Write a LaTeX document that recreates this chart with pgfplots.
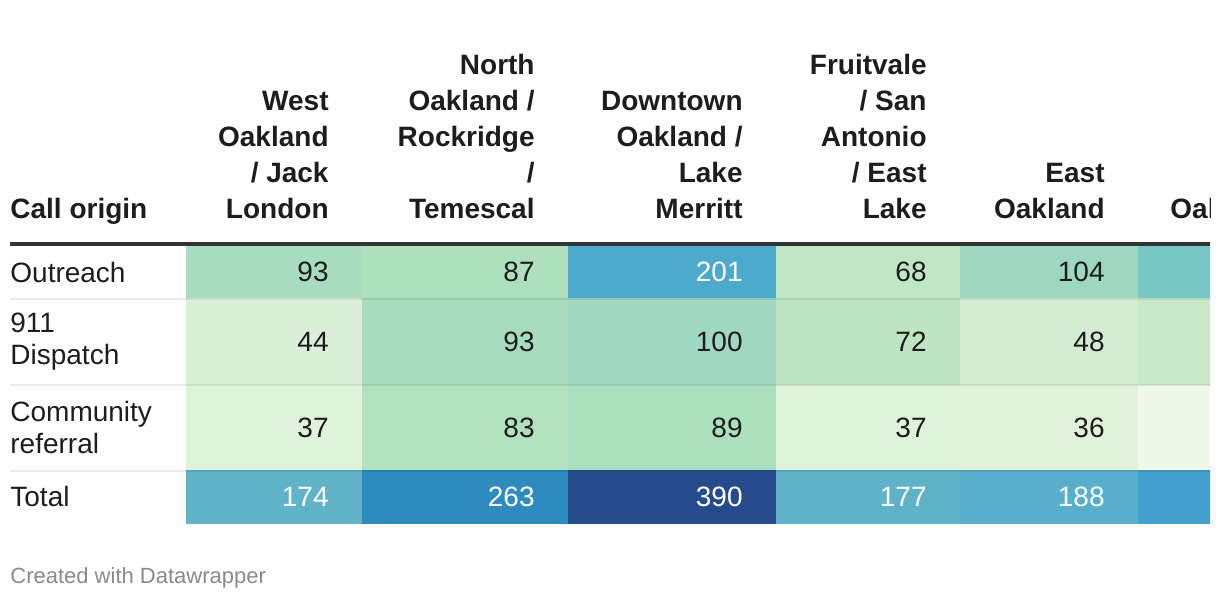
\documentclass[border=0pt]{standalone}
\usepackage{pgfplots}
\pgfplotsset{compat=1.18}
\usepgfplotslibrary{patchplots}
\usepackage{fontspec}
\setmainfont{Liberation Sans}
\definecolor{txt}{RGB}{29,29,29}
\definecolor{rulecol}{RGB}{51,51,51}
\definecolor{foot}{RGB}{138,138,138}
\newcommand{\hdrfont}{\fontsize{14}{18}\selectfont\bfseries\color{txt}}
\newcommand{\cellfont}{\fontsize{14}{16}\selectfont\color{txt}}
\newcommand{\whitefont}{\fontsize{14}{16}\selectfont\color{white}}
\begin{document}
\begin{tikzpicture}
\path[use as bounding box] (0,0) rectangle (610pt,300pt);
\clip (0,0) rectangle (605pt,300pt);
\begin{axis}[
  at={(0,0)}, anchor=south west,
  scale only axis, width=610pt, height=300pt,
  xmin=0, xmax=1220, ymin=0, ymax=600, y dir=reverse,
  hide axis, clip=false,
  point meta min=20, point meta max=390,
  colormap={dw}{
    rgb255(20pt)=(239,248,233)
    rgb255(36pt)=(224,242,219)
    rgb255(44pt)=(218,239,216)
    rgb255(48pt)=(212,237,210)
    rgb255(60pt)=(200,233,200)
    rgb255(68pt)=(193,230,196)
    rgb255(72pt)=(189,229,194)
    rgb255(83pt)=(178,225,190)
    rgb255(87pt)=(175,224,190)
    rgb255(89pt)=(172,223,189)
    rgb255(93pt)=(168,220,191)
    rgb255(100pt)=(161,216,195)
    rgb255(104pt)=(157,215,194)
    rgb255(140pt)=(117,198,197)
    rgb255(174pt)=(97,180,200)
    rgb255(188pt)=(87,175,203)
    rgb255(201pt)=(78,170,205)
    rgb255(220pt)=(68,159,204)
    rgb255(263pt)=(45,139,191)
    rgb255(390pt)=(38,75,141)
  },
]
\addplot[patch, patch type=rectangle, shader=faceted, faceted color=mapped color, line width=0.2pt]
  table[x=x, y=y, point meta=\thisrow{v}] {
x y v
186 246 93
362 246 93
362 298 93
186 298 93
186 298 44
362 298 44
362 385 44
186 385 44
186 385 37
362 385 37
362 470 37
186 470 37
186 470 174
362 470 174
362 523 174
186 523 174
362 246 87
568 246 87
568 298 87
362 298 87
362 298 93
568 298 93
568 385 93
362 385 93
362 385 83
568 385 83
568 470 83
362 470 83
362 470 263
568 470 263
568 523 263
362 523 263
568 246 201
776 246 201
776 298 201
568 298 201
568 298 100
776 298 100
776 385 100
568 385 100
568 385 89
776 385 89
776 470 89
568 470 89
568 470 390
776 470 390
776 523 390
568 523 390
776 246 68
960 246 68
960 298 68
776 298 68
776 298 72
960 298 72
960 385 72
776 385 72
776 385 37
960 385 37
960 470 37
776 470 37
776 470 177
960 470 177
960 523 177
776 523 177
960 246 104
1138 246 104
1138 298 104
960 298 104
960 298 48
1138 298 48
1138 385 48
960 385 48
960 385 36
1138 385 36
1138 470 36
960 470 36
960 470 188
1138 470 188
1138 523 188
960 523 188
1138 246 140
1320 246 140
1320 298 140
1138 298 140
1138 298 60
1320 298 60
1320 385 60
1138 385 60
1138 385 20
1320 385 20
1320 470 20
1138 470 20
1138 470 220
1320 470 220
1320 523 220
1138 523 220
};
\addplot[only marks, mark size=0pt, nodes near coords, point meta=explicit symbolic,
  every node near coord/.append style={anchor=east, inner sep=0pt, font=\cellfont}]
  table[x=x, y=y, meta=v] {
x y v
329 272 93
535 272 87
927 272 68
1105 272 104
329 341.5 44
535 341.5 93
743 341.5 100
927 341.5 72
1105 341.5 48
329 427.5 37
535 427.5 83
743 427.5 89
927 427.5 37
1105 427.5 36
};
\addplot[only marks, mark size=0pt, nodes near coords, point meta=explicit symbolic,
  every node near coord/.append style={anchor=east, inner sep=0pt, font=\whitefont}]
  table[x=x, y=y, meta=v] {
x y v
743 272 201
329 496.5 174
535 496.5 263
743 496.5 390
927 496.5 177
1105 496.5 188
};
\draw[line width=2pt, rulecol] (axis cs:10,244) -- (axis cs:1220,244);
\draw[line width=1pt, black, opacity=0.08] (axis cs:10,299) -- (axis cs:1220,299);
\draw[line width=1pt, black, opacity=0.08] (axis cs:10,385) -- (axis cs:1220,385);
\draw[line width=1pt, black, opacity=0.08] (axis cs:10,470.5) -- (axis cs:1220,470.5);
\node[anchor=base west, inner sep=0pt, font=\hdrfont] at (axis cs:10,218) {Call origin};
\node[anchor=base east, inner sep=0pt, font=\hdrfont] at (axis cs:329,218)
  {\begin{tabular}[b]{@{}r@{}}West\\Oakland\\/ Jack\\London\end{tabular}};
\node[anchor=base east, inner sep=0pt, font=\hdrfont] at (axis cs:535,218)
  {\begin{tabular}[b]{@{}r@{}}North\\Oakland /\\Rockridge\\/\\Temescal\end{tabular}};
\node[anchor=base east, inner sep=0pt, font=\hdrfont] at (axis cs:743,218)
  {\begin{tabular}[b]{@{}r@{}}Downtown\\Oakland /\\Lake\\Merritt\end{tabular}};
\node[anchor=base east, inner sep=0pt, font=\hdrfont] at (axis cs:927,218)
  {\begin{tabular}[b]{@{}r@{}}Fruitvale\\/ San\\Antonio\\/ East\\Lake\end{tabular}};
\node[anchor=base east, inner sep=0pt, font=\hdrfont] at (axis cs:1105,218)
  {\begin{tabular}[b]{@{}r@{}}East\\Oakland\end{tabular}};
\node[anchor=base west, inner sep=0pt, font=\hdrfont] at (axis cs:1170,218) {Oakland};
\node[anchor=west, inner sep=0pt, align=left, font=\cellfont] at (axis cs:10,272) {Outreach};
\node[anchor=west, inner sep=0pt, align=left, font=\cellfont] at (axis cs:10,341.5) {911\\Dispatch};
\node[anchor=west, inner sep=0pt, align=left, font=\cellfont] at (axis cs:10,427.5) {Community\\referral};
\node[anchor=west, inner sep=0pt, align=left, font=\cellfont] at (axis cs:10,496.5) {Total};
\node[anchor=base west, inner sep=0pt, font=\fontsize{11}{13}\selectfont\color{foot}] at (axis cs:10,583) {Created with Datawrapper};
\end{axis}
\end{tikzpicture}
\end{document}
